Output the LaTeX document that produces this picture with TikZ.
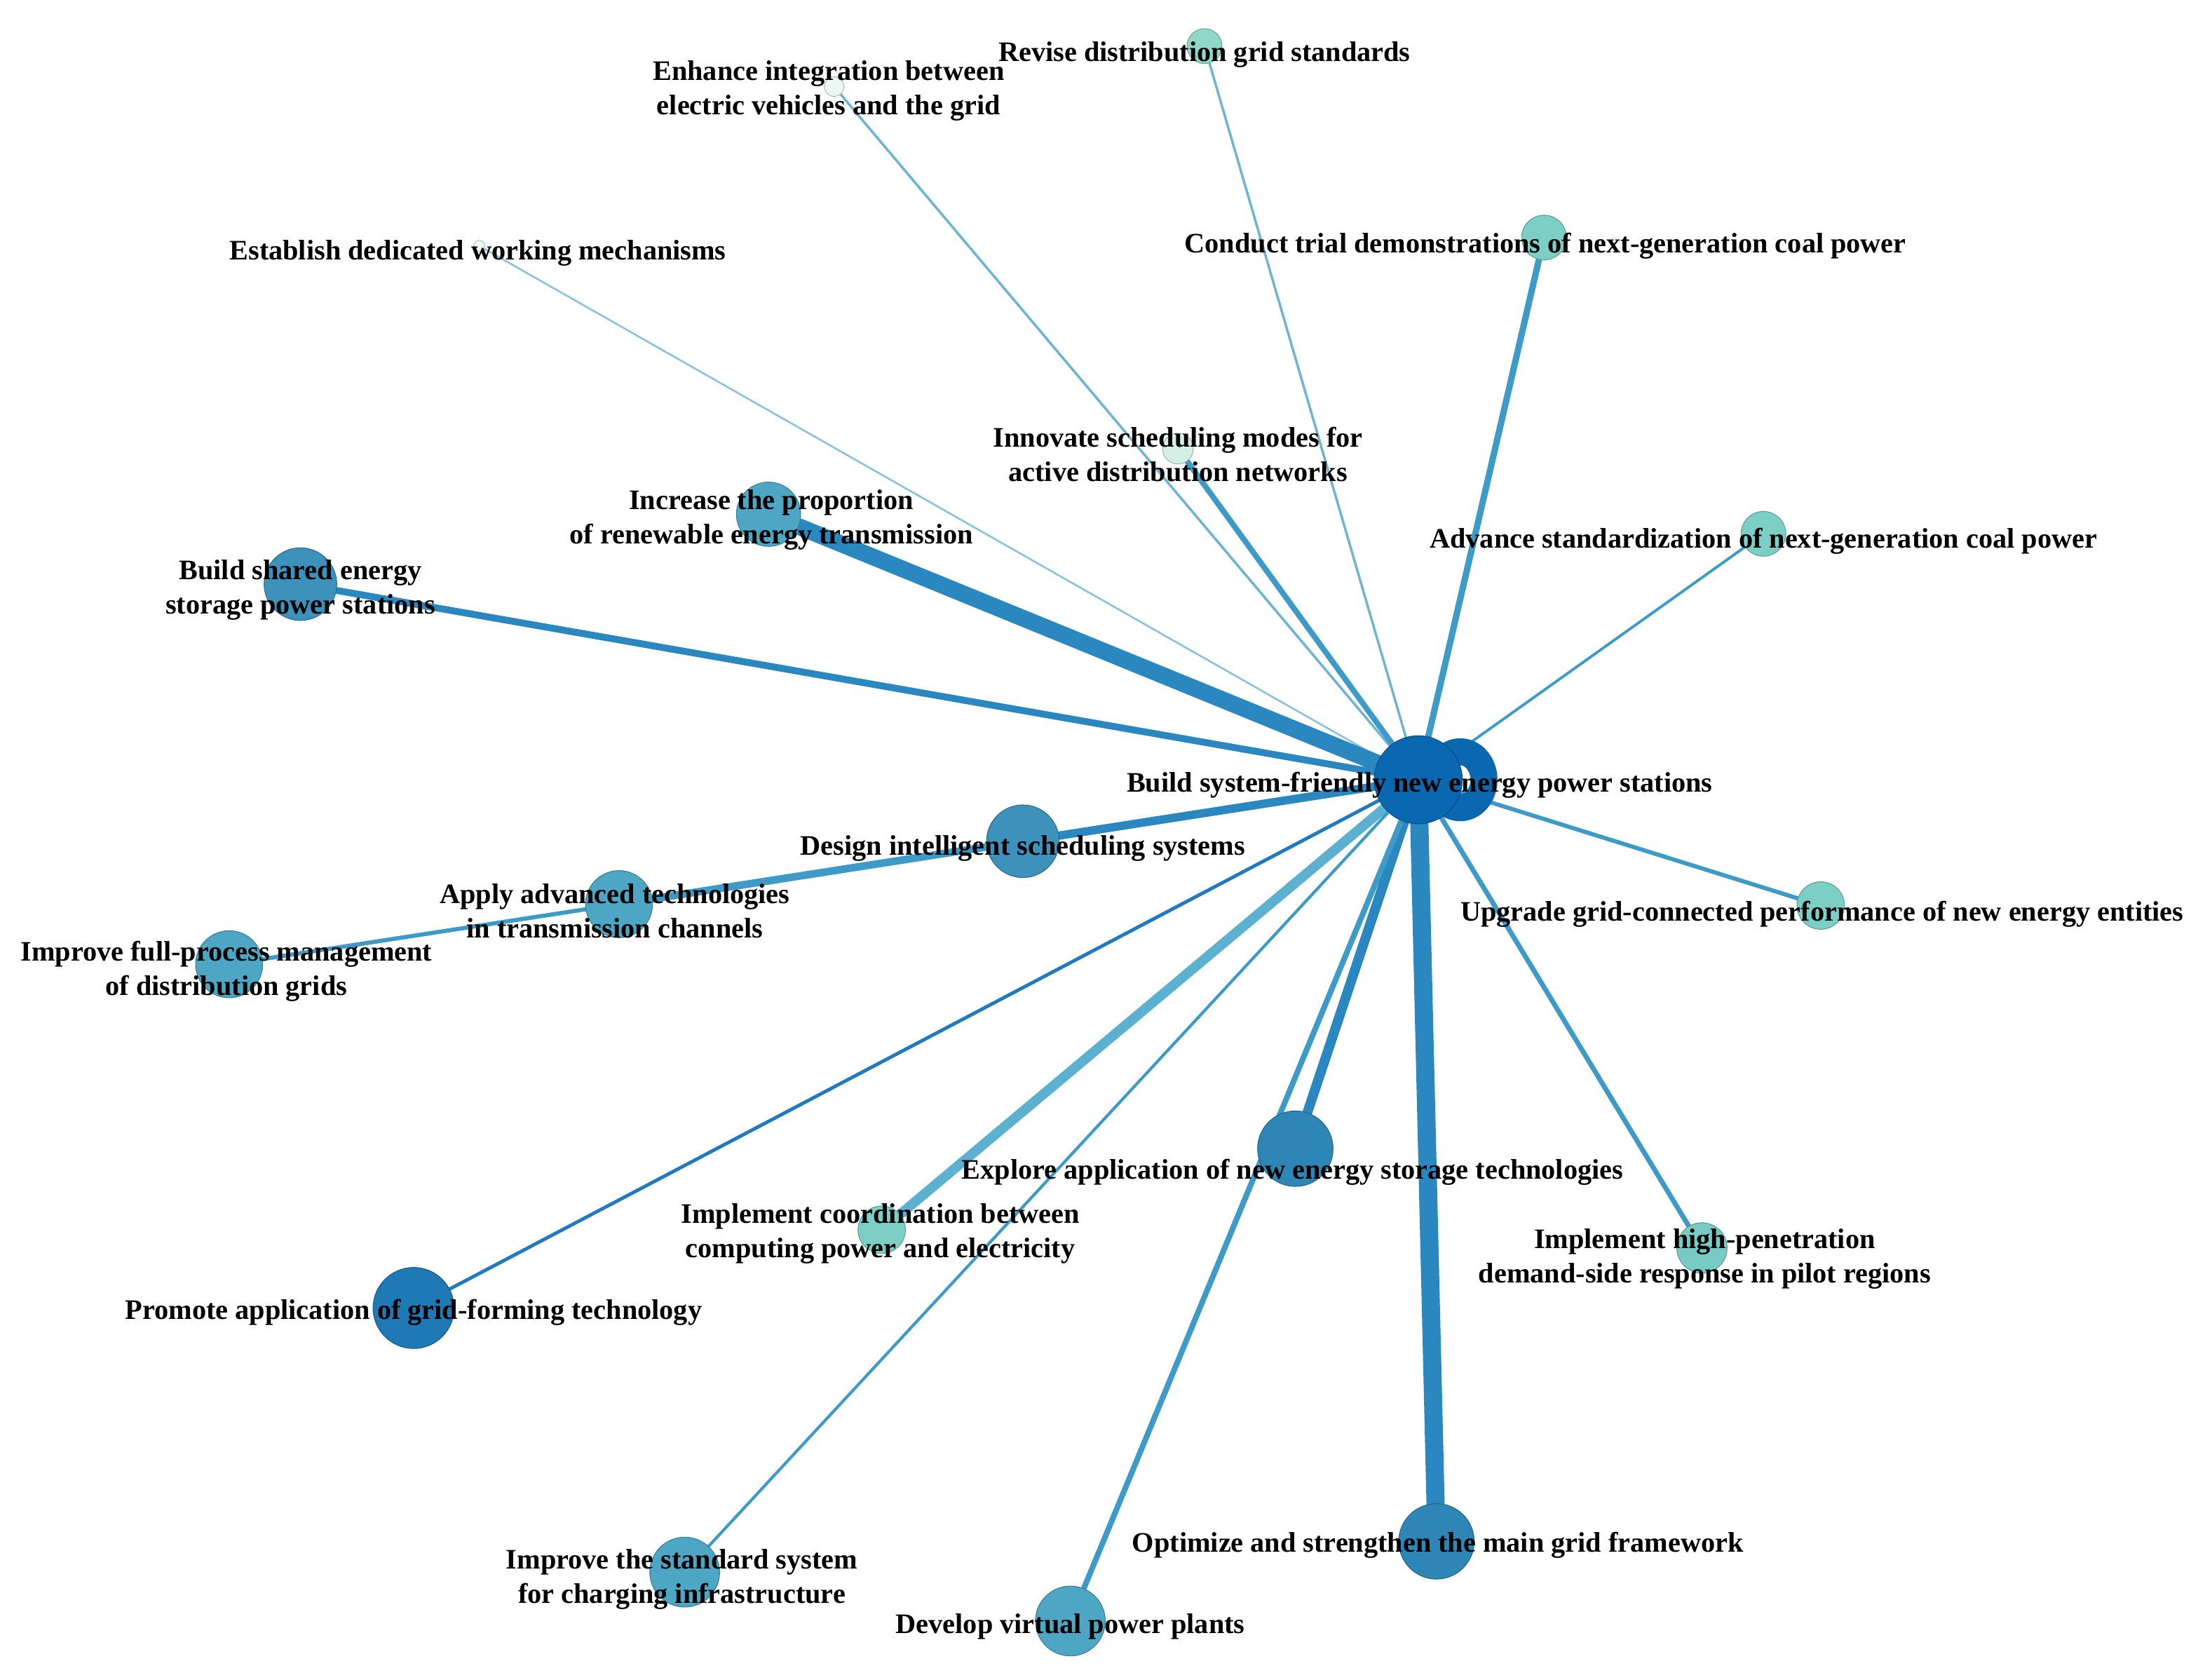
\documentclass[tikz,border=0pt]{standalone}
\usepackage{fontspec}
\setmainfont{Liberation Serif}
\usetikzlibrary{positioning, backgrounds}
\usepackage{xcolor}

\definecolor{cHub}{RGB}{10,104,176}
\definecolor{cDark}{RGB}{30,121,180}
\definecolor{cDeep}{RGB}{45,134,181}
\definecolor{cMid}{RGB}{60,146,187}
\definecolor{cSoft}{RGB}{76,166,196}
\definecolor{cTeal}{RGB}{124,207,196}
\definecolor{cMint}{RGB}{144,216,200}
\definecolor{cPale}{RGB}{212,239,230}
\definecolor{cWhite}{RGB}{236,248,242}
\definecolor{eDeep}{RGB}{43,135,192}
\definecolor{eMid}{RGB}{62,155,200}
\definecolor{eLight}{RGB}{92,176,208}
\definecolor{eThin}{RGB}{110,180,212}
\definecolor{eBlue}{RGB}{33,121,191}

\begin{document}
\begin{tikzpicture}[x=0.02cm, y=-0.02cm,
    vtx/.style={circle, inner sep=0pt, line width=0.3pt, fill=#1, draw=#1!75!black},
    lbl/.style={font=\bfseries\fontsize{11.5}{14}\selectfont, align=center, inner sep=0pt},
    link/.style={line cap=round}]

    \useasboundingbox (0,0) rectangle (1568,1202);

    % Nodes
    \node[vtx=cHub, minimum size=1.26cm] (hub) at (1015,558) {};
    \node[vtx=cMint, minimum size=0.5cm] (revise) at (862,33) {};
    \node[vtx=cWhite, minimum size=0.28cm] (enhance) at (597,62) {};
    \node[vtx=cWhite, minimum size=0.16cm] (establish) at (343,176) {};
    \node[vtx=cTeal, minimum size=0.64cm] (conduct) at (1105,170) {};
    \node[vtx=cPale, minimum size=0.44cm] (innovate) at (843,321) {};
    \node[vtx=cSoft, minimum size=0.92cm] (increase) at (550,368) {};
    \node[vtx=cTeal, minimum size=0.64cm] (advance) at (1262,382) {};
    \node[vtx=cMid, minimum size=1.04cm] (shared) at (215,418) {};
    \node[vtx=cMid, minimum size=1.04cm] (design) at (732,602) {};
    \node[vtx=cSoft, minimum size=0.96cm] (apply) at (443,647) {};
    \node[vtx=cSoft, minimum size=0.96cm] (fullproc) at (164,690) {};
    \node[vtx=cTeal, minimum size=0.68cm] (upgrade) at (1303,648) {};
    \node[vtx=cDeep, minimum size=1.08cm] (explore) at (927,822) {};
    \node[vtx=cTeal, minimum size=0.68cm] (coord) at (631,880) {};
    \node[vtx=cTeal!90!cSoft, minimum size=0.72cm] (highpen) at (1218,893) {};
    \node[vtx=cDark, minimum size=1.16cm] (gridform) at (296,936) {};
    \node[vtx=cSoft, minimum size=1.0cm] (charging) at (490,1125) {};
    \node[vtx=cSoft, minimum size=1.0cm] (virtual) at (766,1160) {};
    \node[vtx=cDeep, minimum size=1.08cm] (mainframe) at (1028,1103) {};

    % Edges (behind the nodes)
    \begin{pgfonlayer}{background}
    \draw[link, eThin, line width=1pt] (hub) -- (revise);
    \draw[link, eThin, line width=1pt] (hub) -- (enhance);
    \draw[link, eThin!80, line width=0.75pt] (hub) -- (establish);
    \draw[link, eMid, line width=2.6pt] (hub) -- (conduct);
    \draw[link, eMid, line width=2.3pt] (hub) -- (innovate);
    \draw[link, eDeep, line width=6.8pt] (hub) -- (increase);
    \draw[link, eMid, line width=1.1pt] (hub) -- (advance);
    \draw[link, eDeep, line width=2.8pt] (hub) -- (shared);
    \draw[link, eDeep, line width=3.4pt] (hub) -- (design);
    \draw[link, eMid, line width=3.1pt] (design) -- (apply);
    \draw[link, eMid, line width=1.7pt] (apply) -- (fullproc);
    \draw[link, eMid, line width=1.7pt] (hub) -- (upgrade);
    \draw[link, eDeep, line width=4pt] (hub) -- (explore);
    \draw[link, eLight, line width=4pt] (hub) -- (coord);
    \draw[link, eMid, line width=2pt] (hub) -- (highpen);
    \draw[link, eBlue, line width=1.4pt] (hub) -- (gridform);
    \draw[link, eMid, line width=1.2pt] (hub) -- (charging);
    \draw[link, eMid, line width=2.3pt] (hub) -- (virtual);
    \draw[link, eDeep, line width=7.4pt] (hub) -- (mainframe);
    % self loop
    \draw[cHub, line width=11pt] ([xshift=0.6cm]hub.center) ellipse [x radius=17, y radius=20];
    \end{pgfonlayer}

    % Labels
    \node[lbl] (t-hub) at (1016,562) {Build system-friendly new energy power stations};
    \node[lbl] (t-revise) at (862,39) {Revise distribution grid standards};
    \node[lbl] (t-enhance) at (593,65) {Enhance integration between\\electric vehicles and the grid};
    \node[lbl] (t-establish) at (342,181) {Establish dedicated working mechanisms};
    \node[lbl] (t-conduct) at (1106,176) {Conduct trial demonstrations of next-generation coal power};
    \node[lbl] (t-innovate) at (843,325) {Innovate scheduling modes for\\active distribution networks};
    \node[lbl] (t-increase) at (552,372) {Increase the proportion\\of renewable energy transmission};
    \node[lbl] (t-advance) at (1262,387) {Advance standardization of next-generation coal power};
    \node[lbl] (t-shared) at (215,422) {Build shared energy\\storage power stations};
    \node[lbl] (t-design) at (732,607) {Design intelligent scheduling systems};
    \node[lbl] (t-apply) at (440,652) {Apply advanced technologies\\in transmission channels};
    \node[lbl] (t-fullproc) at (162,695) {Improve full-process management\\of distribution grids};
    \node[lbl] (t-upgrade) at (1304,654) {Upgrade grid-connected performance of new energy entities};
    \node[lbl] (t-explore) at (925,839) {Explore application of new energy storage technologies};
    \node[lbl] (t-coord) at (630,883) {Implement coordination between\\computing power and electricity};
    \node[lbl] (t-highpen) at (1220,901) {Implement high-penetration\\demand-side response in pilot regions};
    \node[lbl] (t-gridform) at (296,939) {Promote application of grid-forming technology};
    \node[lbl] (t-charging) at (488,1130) {Improve the standard system\\for charging infrastructure};
    \node[lbl] (t-mainframe) at (1029,1106) {Optimize and strengthen the main grid framework};
    \node[lbl] (t-virtual) at (766,1164) {Develop virtual power plants};
\end{tikzpicture}
\end{document}
